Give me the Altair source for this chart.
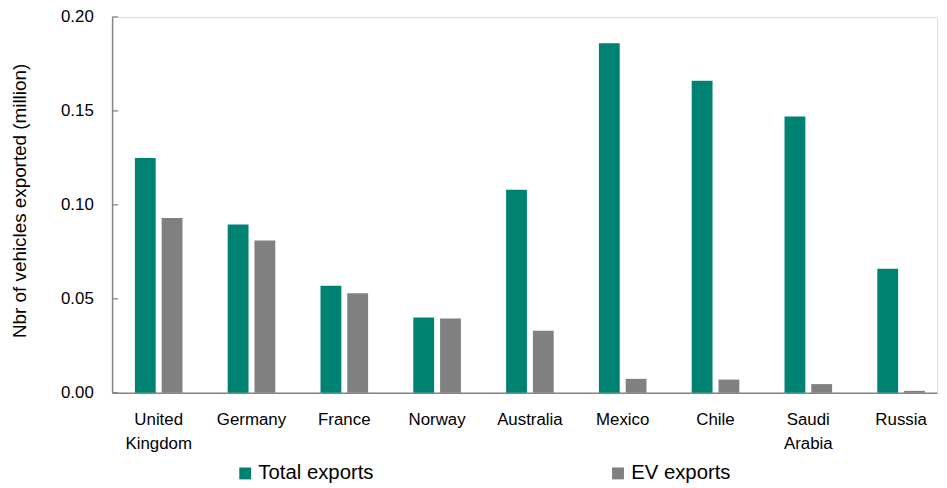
import altair as alt
import pandas as pd

countries = ["United Kingdom", "Germany", "France", "Norway", "Australia",
             "Mexico", "Chile", "Saudi Arabia", "Russia"]
total_exports = [0.125, 0.0895, 0.057, 0.040, 0.108, 0.186, 0.166, 0.147, 0.066]
ev_exports = [0.093, 0.081, 0.053, 0.0395, 0.033, 0.0074, 0.0070, 0.0046, 0.0010]
series = ["Total exports", "EV exports"]
colors = ["#008272", "#808080"]
y_ticks = [0.0, 0.05, 0.10, 0.15, 0.20]

rows = []
for c, t, e in zip(countries, total_exports, ev_exports):
    rows.append({"country": c, "series": series[0], "value": t})
    rows.append({"country": c, "series": series[1], "value": e})
df = pd.DataFrame(rows)
df_ticks = pd.DataFrame({"value": y_ticks})

FONT = "Liberation Sans"
AXIS_GRAY = "#868686"
YTITLE = "Nbr of vehicles exported (million)"

bars = alt.Chart(df).mark_bar().encode(
    x=alt.X("country:N", sort=countries,
            scale=alt.Scale(paddingInner=0.487, paddingOuter=0.188, align=0.653),
            axis=alt.Axis(title=None, labelAngle=0, ticks=False,
                          labelExpr="split(datum.label, ' ')",
                          labelFontSize=17, labelPadding=19, labelLineHeight=24,
                          labelColor="#000000", labelFont=FONT,
                          domainColor=AXIS_GRAY, domainWidth=1.5)),
    xOffset=alt.XOffset("series:N", sort=series,
                        scale=alt.Scale(paddingInner=0.222, paddingOuter=0)),
    y=alt.Y("value:Q", title=YTITLE,
            scale=alt.Scale(domain=[0, 0.2], nice=False),
            axis=alt.Axis(values=y_ticks, format=".2f", grid=False, ticks=False,
                          labelFontSize=17, labelPadding=19, labelColor="#000000",
                          labelFont=FONT, titleFont=FONT, titleFontSize=19,
                          titleFontWeight="normal", titleColor="#000000",
                          titleY=185,
                          titlePadding=31, domainColor=AXIS_GRAY, domainWidth=1.5)),
    color=alt.Color("series:N", sort=series,
                    scale=alt.Scale(domain=series, range=colors),
                    legend=alt.Legend(title=None, orient="none", legendX=124, legendY=450,
                                      padding=0,
                                      direction="horizontal", symbolType="square",
                                      symbolSize=144, symbolStrokeWidth=0,
                                      labelFontSize=20.5, labelFont=FONT,
                                      labelColor="#000000", labelOffset=3,
                                      columnPadding=236, labelLimit=0)),
)

ticks = alt.Chart(df_ticks).mark_rule(color=AXIS_GRAY, strokeWidth=1.3).encode(
    y=alt.Y("value:Q", title=YTITLE),
    x=alt.value(0),
    x2=alt.value(6),
)

chart = alt.layer(bars, ticks).properties(
    width=832, height=379,
    autosize=alt.AutoSizeParams(type="none"),
    padding={"left": 105, "top": 7, "right": 2, "bottom": 92},
).configure_view(stroke=None).configure(font=FONT)

chart.save("out.html", embed_options={"renderer": "svg", "actions": False})
